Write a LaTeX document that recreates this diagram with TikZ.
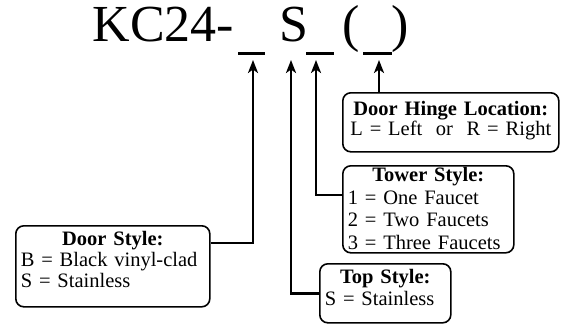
\documentclass[tikz,border=0pt]{standalone}
\usepackage{fontspec}
\setmainfont{Liberation Serif}
\usetikzlibrary{arrows.meta}
\tikzset{
  infobox/.style={draw, line width=1.6pt, rounded corners=8pt, anchor=north west,
    inner xsep=5pt, inner ysep=0pt},
  titletext/.style={font=\fontsize{52}{52}\selectfont, inner sep=0pt, anchor=base},
  blankline/.style={line width=3pt},
  conn/.style={line width=2.8pt},
  arr/.style={conn, -{Stealth[length=13pt,width=10pt,inset=3.5pt]}},
}
\begin{document}
\begin{tikzpicture}[x=1pt,y=-1pt]
\path[fill=white,use as bounding box] (0,0) rectangle (564,324);

% title
\node[titletext, anchor=base west] (kc) at (92.5,41) {KC24-};
\node[titletext] (s) at (293.5,41) {S};
\node[titletext] (lp) at (351.5,41) {(};
\node[titletext] (rp) at (400,41) {)};
\draw[blankline] (238,53.5) -- (265,53.5);
\draw[blankline] (306,53.5) -- (334,53.5);
\draw[blankline] (363,53.5) -- (392,53.5);

% arrow tips
\coordinate (t1) at (253,60);
\coordinate (t2) at (291,60);
\coordinate (t3) at (316,60);
\coordinate (t4) at (379,60);

% boxes
\node[infobox, text width=184pt, text height=20pt, text depth=61pt, align=left,
      font=\fontsize{20.5}{21}\selectfont] (door) at (15,225)
  {\makebox[184pt]{\textbf{Door Style:}}\\B = Black vinyl-clad\\S = Stainless};

\node[infobox, text width=206pt, text height=23pt, text depth=36pt, align=center,
      font=\fontsize{20.5}{20}\selectfont] (hinge) at (342,92)
  {\textbf{Door Hinge Location:}\\L = Left~~or~~R = Right};

\node[infobox, text width=161pt, text height=16pt, text depth=71pt, align=left,
      font=\fontsize{20.5}{22.5}\selectfont] (tower) at (342,165)
  {\makebox[161pt]{\textbf{Tower Style:}}\\1 = One Faucet\\2 = Two Faucets\\3 = Three Faucets};

\node[infobox, text width=121pt, text height=20pt, text depth=39pt, align=left,
      font=\fontsize{20.5}{22}\selectfont] (top) at (319,263)
  {\makebox[121pt]{\textbf{Top Style:}}\\S = Stainless};

% connectors
\draw[arr] (door.east |- 0,243) -| (t1);
\draw[arr] (top.west) -| (t2);
\draw[arr] (tower.west |- 0,195) -| (t3);
\draw[arr] (hinge.north -| t4) -- (t4);
\end{tikzpicture}
\end{document}
